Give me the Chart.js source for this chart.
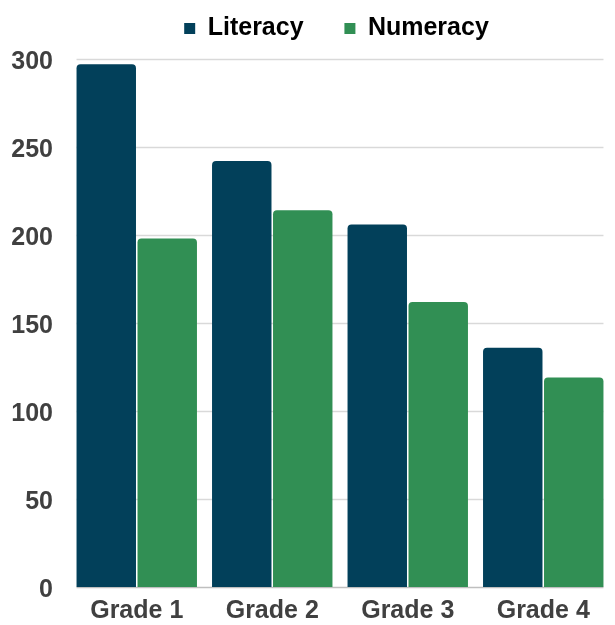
<!DOCTYPE html>
<html>
<head>
<meta charset="utf-8">
<script src="https://cdn.jsdelivr.net/npm/chart.js@4"></script>
<style>
  body { margin: 0; background: #fff; }
  #wrap { width: 615px; height: 625px; }
</style>
</head>
<body>
<div id="wrap"><canvas id="grafico"></canvas></div>
<script>
// dados do gráfico
const categorias = ["Grade 1", "Grade 2", "Grade 3", "Grade 4"];
const literacy = [297, 242, 206, 136];
const numeracy = [198, 214, 162, 119];
const yTicks = [0, 50, 100, 150, 200, 250, 300];

const fonte = { family: "'Liberation Sans', Arial, sans-serif", size: 25, weight: "bold" };
const fonteX = { family: "'Liberation Sans', Arial, sans-serif", size: 25, weight: "bold", lineHeight: 0.8 };
const cinza = "#404040";

// linhas de grade só entre a primeira e a última barra, como no original
const gradeCurta = {
  id: 'gradeCurta',
  afterLayout(chart) {
    // empurra a legenda um pouco para a direita e para cima
    chart.legend.left += 31;
    chart.legend.right += 31;
    chart.legend.top -= 8;
    chart.legend.bottom -= 8;
  },
  beforeDatasetsDraw(chart) {
    const c = chart.ctx;
    const y = chart.scales.y;
    const primeira = chart.getDatasetMeta(0).data[0];
    const ultima = chart.getDatasetMeta(1).data[categorias.length - 1];
    const x0 = primeira.x - primeira.width / 2;
    const x1 = ultima.x + ultima.width / 2;
    c.save();
    yTicks.forEach(v => {
      const py = Math.round(y.getPixelForValue(v)) + 0.5;
      c.strokeStyle = v === 0 ? '#bfbfbf' : '#d9d9d9';
      c.lineWidth = 1.5;
      c.beginPath();
      c.moveTo(x0, py);
      c.lineTo(x1, py);
      c.stroke();
    });
    c.restore();
  }
};

const ctx = document.getElementById("grafico").getContext("2d");
new Chart(ctx, {
  type: 'bar',
  data: {
    labels: categorias,
    datasets: [
      {
        label: 'Literacy',
        data: literacy,
        backgroundColor: '#02405A',
        borderRadius: { topLeft: 4, topRight: 4 },
        borderSkipped: 'bottom',
        barPercentage: 0.975,
        categoryPercentage: 0.9
      },
      {
        label: 'Numeracy',
        data: numeracy,
        backgroundColor: '#318F54',
        borderRadius: { topLeft: 4, topRight: 4 },
        borderSkipped: 'bottom',
        barPercentage: 0.975,
        categoryPercentage: 0.9
      }
    ]
  },
  options: {
    responsive: true,
    maintainAspectRatio: false,
    animation: false,
    layout: { padding: { left: 0, right: 4, top: 4, bottom: -10 } },
    plugins: {
      tooltip: { enabled: false },
      legend: {
        position: 'top',
        labels: {
          font: fonte,
          color: cinza,
          boxWidth: 11,
          boxHeight: 11,
          padding: 20,
          generateLabels: (chart) => chart.data.datasets.map((ds, i) => ({
            text: ds.label + (i === 0 ? '   ' : ''),
            fillStyle: ds.backgroundColor,
            strokeStyle: ds.backgroundColor,
            lineWidth: 0,
            datasetIndex: i
          }))
        }
      }
    },
    scales: {
      x: {
        grid: { display: false, drawTicks: false },
        border: { display: false },
        ticks: { font: fonteX, color: cinza, padding: 14 }
      },
      y: {
        min: 0,
        max: 300,
        afterBuildTicks: (scale) => { scale.ticks = yTicks.map(v => ({ value: v })); },
        afterFit: (scale) => { scale.width = 69; },
        grid: { display: false, drawTicks: false },
        border: { display: false },
        ticks: { font: fonte, color: cinza, padding: 16, labelOffset: 3 }
      }
    }
  },
  plugins: [gradeCurta]
});
</script>
</body>
</html>
